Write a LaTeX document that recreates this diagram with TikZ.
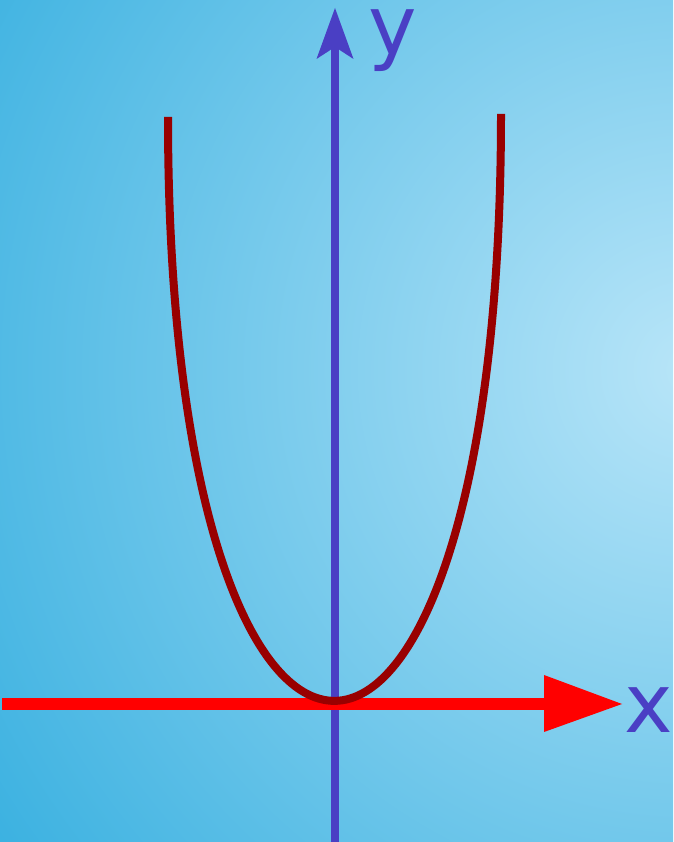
\documentclass[tikz,border=0pt]{standalone}
\usepackage{fontspec}
\newfontfamily\lblfont{DejaVu Sans}
\definecolor{bglight}{HTML}{B8E5F8}
\definecolor{bgdark}{HTML}{38B0E0}
\definecolor{axisblue}{HTML}{4A3FC4}
\definecolor{axisred}{HTML}{FF0000}
\definecolor{curvered}{HTML}{990000}
\tikzset{
  yaxisline/.style={draw=axisblue, line width=8pt},
  yaxishead/.style={fill=axisblue},
  xaxisline/.style={draw=axisred, line width=12pt},
  xaxishead/.style={fill=axisred},
  curveline/.style={draw=curvered, line width=8pt},
  axislabel/.style={text=axisblue, inner sep=0pt, anchor=base, font=\lblfont\fontsize{82}{82}\selectfont}
}
\begin{document}
\begin{tikzpicture}[x=1pt,y=1pt]
\useasboundingbox (0,0) rectangle (673,842);
% background
\begin{scope}
\clip (0,0) rectangle (673,842);
\shade[inner color=bglight, outer color=bgdark] (690,472) circle (860);
\end{scope}
% y axis
\coordinate (ybot) at (335,0);
\coordinate (yshaft) at (335,796);
\coordinate (ytip) at (335,834);
\draw[yaxisline] (ybot) -- (yshaft);
\fill[yaxishead] (ytip) -- (353.5,783) -- (335,795) -- (316.5,783) -- cycle;
% x axis
\coordinate (xleft) at (2,138);
\coordinate (xbase) at (545,138);
\coordinate (xtip) at (622,138);
\draw[xaxisline] (xleft) -- (xbase);
\fill[xaxishead] (xtip) -- (544,167) -- (544,110) -- cycle;
% curve
\coordinate (cl) at (168,725);
\coordinate (cr) at (501,728);
\draw[curveline] (cl) .. controls (168,-54) and (501,-54) .. (cr);
% labels
\node[axislabel] (ylbl) at (393,787) {y};
\node[axislabel] (xlbl) at (649,109) {x};
\end{tikzpicture}
\end{document}
